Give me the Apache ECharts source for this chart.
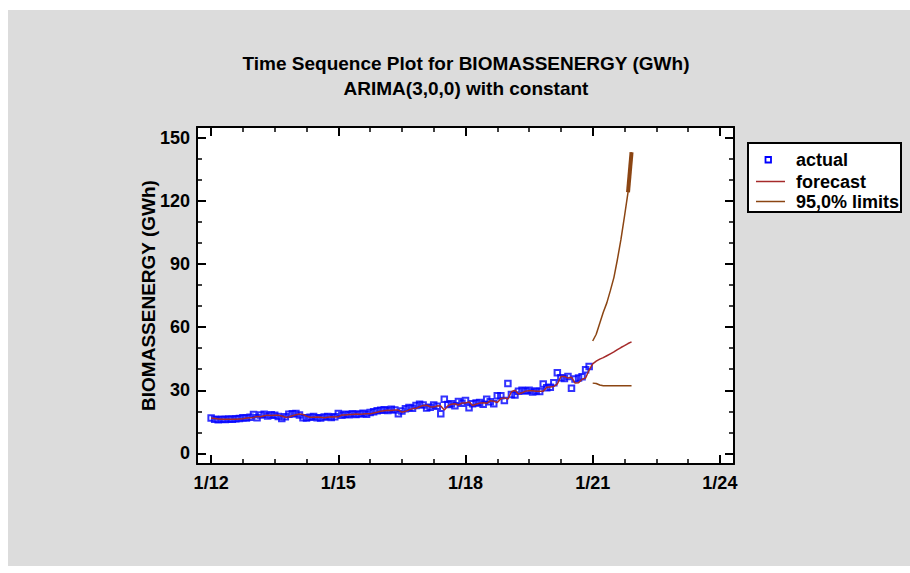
<!DOCTYPE html>
<html>
<head>
<meta charset="utf-8">
<title>Time Sequence Plot for BIOMASSENERGY (GWh)</title>
<script src="https://cdn.jsdelivr.net/npm/echarts@6/dist/echarts.min.js"></script>
<style>
  html, body { margin: 0; padding: 0; background: #ffffff; }
  #chart { width: 910px; height: 573px; }
</style>
</head>
<body>
<div id="chart"></div>
<script>
// Monthly observations, January 2012 .. December 2020 (GWh)
const actual = [
  16.8, 16.2, 16.0, 16.3, 16.1, 16.4, 16.2, 16.5, 16.6, 17.0, 16.8, 17.2,
  18.5, 17.0, 18.3, 18.6, 17.8, 18.4, 18.2, 17.5, 16.6, 17.4, 18.6, 18.8,
  19.0, 18.3, 17.0, 16.8, 17.2, 17.5, 17.0, 16.8, 17.3, 17.6, 17.1, 17.4,
  19.0, 18.2, 18.6, 18.4, 18.9, 18.5, 18.7, 19.1, 18.6, 19.4, 19.8, 20.3,
  20.5, 20.8, 20.4, 21.0, 20.6, 18.8, 20.2, 21.2, 21.8, 21.5, 22.8, 23.4,
  23.0, 21.6, 22.0, 23.0, 22.4, 18.8, 25.8, 23.2, 23.6, 22.7, 24.7, 23.8,
  25.2, 21.7, 23.6, 24.0, 24.2, 23.4, 25.8, 24.6, 23.6, 27.4, 27.4, 25.2,
  33.2, 28.0, 27.8, 29.5, 30.0, 29.6, 30.0, 29.2, 29.6, 29.4, 33.0, 31.2,
  31.4, 33.6, 38.3, 36.0, 35.6, 36.5, 31.0, 35.4, 35.8, 36.4, 39.7, 41.3
];

// One-step fitted values (2012-2020) followed by the 12-month forecast for 2021
const forecast = [
  16.8, 16.6, 16.4, 16.2, 16.3, 16.2, 16.3, 16.3, 16.4, 16.5, 16.8, 16.9,
  17.1, 17.6, 17.4, 17.9, 18.2, 18.0, 18.2, 18.2, 17.8, 17.2, 17.3, 17.9,
  18.4, 18.7, 18.5, 17.7, 17.2, 17.2, 17.3, 17.2, 17.0, 17.2, 17.4, 17.3,
  17.4, 18.3, 18.3, 18.5, 18.5, 18.7, 18.6, 18.7, 18.9, 18.8, 19.2, 19.6,
  20.0, 20.3, 20.5, 20.4, 20.6, 20.6, 19.6, 20.0, 20.7, 21.3, 21.4, 22.2,
  22.8, 22.9, 22.2, 22.1, 22.6, 22.5, 20.6, 22.6, 23.4, 23.6, 23.0, 24.0,
  24.0, 24.5, 22.8, 23.4, 23.9, 24.1, 23.8, 25.0, 24.8, 24.2, 26.0, 26.4,
  25.8, 29.3, 30.0, 28.2, 28.8, 29.6, 29.8, 29.8, 29.5, 29.5, 29.5, 31.4,
  31.6, 31.8, 33.0, 36.5, 36.6, 35.8, 36.2, 33.4, 33.6, 35.2, 35.8, 39.6,
  42.5, 43.8, 44.8, 45.5, 46.4, 47.3, 48.2, 49.3, 50.3, 51.2, 52.2, 53.0
];

// 95,0% prediction limits for January .. December 2021
const upperLimits = [53.4, 56.6, 61.8, 67.0, 71.5, 77.3, 83.5, 92.1, 101.6, 112.6, 124.0, 143.0];
const lowerLimits = [33.4, 33.2, 32.5, 32.2, 32.2, 32.1, 32.1, 32.1, 32.1, 32.1, 32.1, 32.1];

const startYear = 2012;            // month index 0 = January 2012
const limitsStart = actual.length; // limits begin with the first forecast month

const xMajorTicks = [0, 36, 72, 108, 144];
const xMinorTicks = [9, 18, 27, 45, 54, 63, 81, 90, 99, 117, 126, 135];
const yMajorTicks = [0, 30, 60, 90, 120, 150];
const yMinorTicks = [10, 20, 40, 50, 70, 80, 100, 110, 130, 140];

const FONT = '"Liberation Sans", Arial, Helvetica, sans-serif';
const AXIS_COLOR = '#000000';
const ACTUAL_COLOR = '#0000ff';
const FORECAST_COLOR = '#a52a2a';
const LIMIT_COLOR = '#8b4513';

const monthLabel = v => '1/' + String((startYear + v / 12) % 100).padStart(2, '0');

const toPoints = (arr, offset) => arr.map((v, i) => [i + offset, v]);

function xAxisDef(position, major) {
  return {
    type: 'value', position: position, min: -4, max: 148,
    axisLine: { show: major, onZero: false, lineStyle: { color: AXIS_COLOR, width: 2 } },
    axisTick: {
      show: true, inside: true, length: major ? 9 : 5,
      customValues: major ? xMajorTicks : xMinorTicks,
      lineStyle: { color: AXIS_COLOR, width: major ? 2 : 1.5 }
    },
    axisLabel: (major && position === 'bottom') ? {
      show: true, customValues: xMajorTicks, formatter: monthLabel,
      color: '#000', fontFamily: FONT, fontWeight: 'bold', fontSize: 18, margin: 10
    } : { show: false },
    splitLine: { show: false }
  };
}

function yAxisDef(position, major) {
  const def = {
    type: 'value', position: position, min: -5, max: 155,
    axisLine: { show: major, onZero: false, lineStyle: { color: AXIS_COLOR, width: 2 } },
    axisTick: {
      show: true, inside: true, length: major ? 9 : 5,
      customValues: major ? yMajorTicks : yMinorTicks,
      lineStyle: { color: AXIS_COLOR, width: major ? 2 : 1.5 }
    },
    axisLabel: (major && position === 'left') ? {
      show: true, customValues: yMajorTicks,
      color: '#000', fontFamily: FONT, fontWeight: 'bold', fontSize: 18, margin: 7
    } : { show: false },
    splitLine: { show: false }
  };
  if (major && position === 'left') {
    def.name = 'BIOMASSENERGY (GWh)';
    def.nameLocation = 'middle';
    def.nameGap = 39;
    def.nameMoveOverlap = false;
    def.nameTextStyle = { color: '#000', fontFamily: FONT, fontWeight: 'bold', fontSize: 19 };
  }
  return def;
}

const chart = echarts.init(document.getElementById('chart'), null, { renderer: 'svg' });

const titleStyle = { fill: '#000', font: 'bold 19px ' + FONT, align: 'center', verticalAlign: 'middle' };
const legendText = { fill: '#000', font: 'bold 18px ' + FONT, align: 'left', verticalAlign: 'middle' };

chart.setOption({
  backgroundColor: '#ffffff',
  animation: false,
  grid: {
    left: 197, top: 127, width: 537, height: 337,
    show: true, backgroundColor: '#ffffff', borderWidth: 0
  },
  xAxis: [xAxisDef('bottom', true), xAxisDef('bottom', false), xAxisDef('top', true), xAxisDef('top', false)],
  yAxis: [yAxisDef('left', true), yAxisDef('left', false), yAxisDef('right', true), yAxisDef('right', false)],
  graphic: [
    { type: 'rect', z: -10, silent: true, shape: { x: 8, y: 10, width: 902, height: 556 }, style: { fill: '#dcdcdc' } },
    { type: 'text', x: 466, y: 63, style: Object.assign({ text: 'Time Sequence Plot for BIOMASSENERGY (GWh)' }, titleStyle) },
    { type: 'text', x: 466, y: 88, style: Object.assign({ text: 'ARIMA(3,0,0) with constant' }, titleStyle) },
    {
      type: 'group', x: 748, y: 143,
      children: [
        { type: 'rect', shape: { x: 0, y: 0, width: 153, height: 69 }, style: { fill: '#ffffff', stroke: '#000', lineWidth: 2 } },
        { type: 'rect', shape: { x: 17.5, y: 14, width: 5.5, height: 5.5 }, style: { fill: 'none', stroke: ACTUAL_COLOR, lineWidth: 1.8 } },
        { type: 'line', shape: { x1: 8, y1: 38.5, x2: 37, y2: 38.5 }, style: { stroke: FORECAST_COLOR, lineWidth: 1.5 } },
        { type: 'line', shape: { x1: 8, y1: 58.5, x2: 37, y2: 58.5 }, style: { stroke: LIMIT_COLOR, lineWidth: 1.5 } },
        { type: 'text', x: 48, y: 17, style: Object.assign({ text: 'actual' }, legendText) },
        { type: 'text', x: 48, y: 38.5, style: Object.assign({ text: 'forecast' }, legendText) },
        { type: 'text', x: 48, y: 58.5, style: Object.assign({ text: '95,0% limits' }, legendText) }
      ]
    }
  ],
  series: [
    {
      name: 'actual', type: 'scatter', xAxisIndex: 0, yAxisIndex: 0,
      data: toPoints(actual, 0),
      symbol: 'rect', symbolSize: 5.5,
      itemStyle: { color: 'transparent', borderColor: ACTUAL_COLOR, borderWidth: 2 },
      z: 2
    },
    {
      name: 'forecast', type: 'line', xAxisIndex: 0, yAxisIndex: 0,
      data: toPoints(forecast, 0),
      showSymbol: false, symbol: 'none',
      lineStyle: { color: FORECAST_COLOR, width: 1.5 },
      z: 3
    },
    {
      name: '95,0% limits', type: 'line', xAxisIndex: 0, yAxisIndex: 0,
      data: toPoints(upperLimits, limitsStart),
      showSymbol: false, symbol: 'none',
      lineStyle: { color: LIMIT_COLOR, width: 1.5 },
      z: 3
    },
    {
      name: '95,0% limits', type: 'line', xAxisIndex: 0, yAxisIndex: 0,
      data: toPoints(lowerLimits, limitsStart),
      showSymbol: false, symbol: 'none',
      lineStyle: { color: LIMIT_COLOR, width: 1.5 },
      z: 3
    },
    {
      // heavier stroke on the last step of the upper limit
      name: '95,0% limits', type: 'line', xAxisIndex: 0, yAxisIndex: 0,
      data: toPoints(upperLimits.slice(-2), limitsStart + upperLimits.length - 2),
      showSymbol: false, symbol: 'none',
      lineStyle: { color: LIMIT_COLOR, width: 4 },
      z: 3
    }
  ]
});
</script>
</body>
</html>
